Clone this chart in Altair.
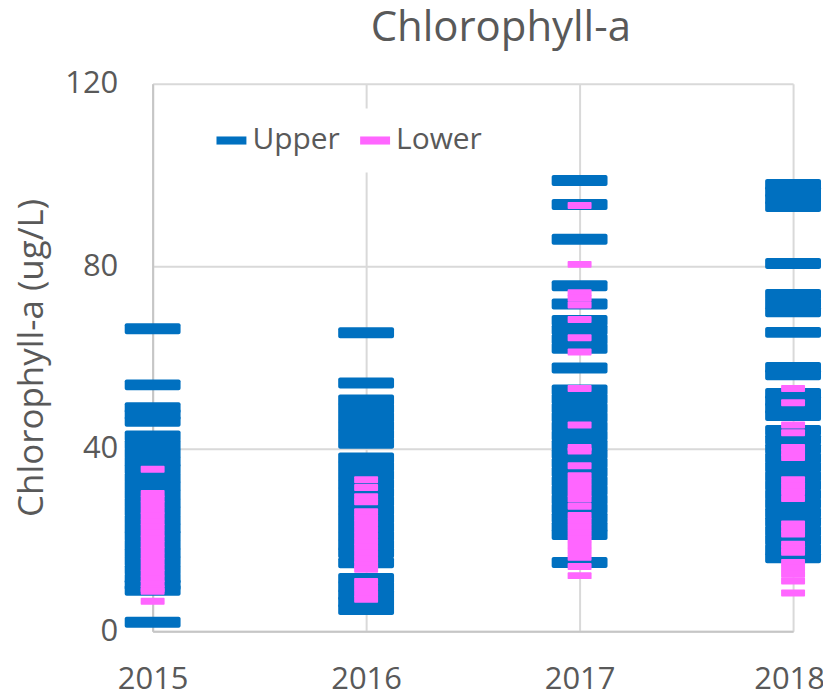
import altair as alt
import pandas as pd

years = [2015, 2016, 2017, 2018]
series_names = ["Upper", "Lower"]
colors = ["#0070C0", "#FF66FF"]

upper_2015 = [66.3, 54.0, 49.0, 47.5, 46.0, 42.8, 40.9, 39.0, 37.2, 35.5, 33.6, 31.8, 30.0,
              28.1, 26.3, 24.4, 22.6, 20.9, 19.0, 17.2, 15.4, 13.5, 11.6, 10.2, 9.0, 2.0]
lower_2015 = [35.5, 30.2, 29.0, 27.8, 26.5, 25.3, 24.0, 22.8, 21.5, 20.3, 19.0, 17.8, 16.5,
              15.3, 14.0, 12.8, 11.5, 10.4, 9.3, 8.8, 6.6]
upper_2016 = [65.4, 54.4, 50.7, 48.8, 46.9, 45.0, 43.1, 41.2, 38.0, 36.1, 34.2, 32.3, 30.4,
              28.5, 26.6, 24.7, 22.8, 20.9, 19.0, 17.2, 15.0, 11.6, 9.8, 8.0, 6.4, 4.8]
lower_2016 = [33.2, 31.5, 29.5, 28.4, 26.2, 24.9, 23.6, 22.3, 21.0, 19.7, 18.4, 17.1, 15.8,
              14.6, 13.6, 10.9, 9.6, 8.3, 7.0]
upper_2017 = [98.8, 93.5, 85.9, 75.7, 71.7, 68.1, 66.1, 64.0, 62.0, 57.7, 52.9, 50.9, 48.9,
              46.9, 44.9, 42.9, 40.9, 38.9, 36.9, 34.9, 32.9, 30.9, 28.9, 26.9, 24.9, 22.9,
              21.2, 15.1]
lower_2017 = [93.3, 80.4, 74.2, 73.0, 71.5, 68.3, 64.3, 61.2, 53.2, 45.2, 40.3, 39.5, 36.3,
              34.1, 32.8, 31.5, 30.2, 29.0, 27.4, 25.4, 24.1, 22.8, 21.5, 20.2, 18.9, 17.6,
              16.2, 14.2, 12.2]
upper_2018 = [97.9, 96.3, 94.7, 93.1, 80.6, 73.8, 71.9, 70.0, 65.5, 57.8, 56.2, 52.1, 50.5,
              48.9, 47.3, 44.0, 42.0, 40.0, 38.0, 36.0, 34.0, 32.0, 30.0, 28.0, 26.0, 24.0,
              22.0, 20.0, 18.0, 16.1]
lower_2018 = [53.2, 50.1, 45.2, 43.5, 40.3, 39.2, 38.1, 33.2, 31.9, 30.6, 29.1, 23.5, 22.4,
              21.3, 19.1, 18.1, 17.3, 15.1, 13.8, 12.5, 11.0, 8.4]

upper = {2015: upper_2015, 2016: upper_2016, 2017: upper_2017, 2018: upper_2018}
lower = {2015: lower_2015, 2016: lower_2016, 2017: lower_2017, 2018: lower_2018}

rows = []
for y in years:
    for v in upper[y]:
        rows.append({"year": y, "value": v, "series": "Upper"})
    for v in lower[y]:
        rows.append({"year": y, "value": v, "series": "Lower"})
df = pd.DataFrame(rows)

FONT = "Open Sans"
TXT = "#595959"

color = alt.Color(
    "series:N",
    scale=alt.Scale(domain=series_names, range=colors),
    legend=alt.Legend(
        orient="none", legendX=47, legendY=25, direction="horizontal", title=None,
        symbolType="M-1,-0.27L1,-0.27L1,0.27L-1,0.27Z", symbolSize=900,
        symbolStrokeWidth=0, symbolOpacity=1,
        labelFontSize=30, labelFont=FONT, labelColor=TXT,
        fillColor="white", padding=17, columnPadding=20, labelOffset=6,
    ),
)

x = alt.X(
    "year:Q",
    scale=alt.Scale(domain=[2015, 2018], nice=False, zero=False),
    axis=alt.Axis(values=years, format="d", title=None, ticks=False, labelPadding=33,
                  labelFontSize=31, labelFont=FONT, labelColor=TXT, labelFlush=False,
                  labelOverlap=False, labelBound=False, gridColor="#d9d9d9", gridWidth=2,
                  domainColor="#c6c6c6", domainWidth=2,
                  labelOffset={"condition": {"test": "datum.value == 2018", "value": -4},
                               "value": 0}),
)
y = alt.Y(
    "value:Q",
    scale=alt.Scale(domain=[0, 120], nice=False),
    axis=alt.Axis(values=[0, 40, 80, 120], title="Chlorophyll-a (ug/L)", ticks=False,
                  labelPadding=35, labelFontSize=31, labelFont=FONT, labelColor=TXT,
                  titleFontSize=35, titleFont=FONT, titleColor=TXT, titleFontWeight="normal",
                  titlePadding=15, gridColor="#d9d9d9", gridWidth=2,
                  domainColor="#c6c6c6", domainWidth=2),
)

base = alt.Chart(df)
up = base.transform_filter(alt.datum.series == "Upper").mark_tick(
    orient="horizontal", size=56, thickness=11, cornerRadius=2, opacity=1
).encode(x=x, y=y, color=color)
lo = base.transform_filter(alt.datum.series == "Lower").mark_tick(
    orient="horizontal", size=24, thickness=7, cornerRadius=1, opacity=1
).encode(x=x, y=y, color=color)

chart = alt.layer(up, lo).properties(
    width=642, height=549,
    title=alt.Title("Chlorophyll-a", fontSize=42, font=FONT, color=TXT, fontWeight="normal",
                    anchor="middle", frame="group", dx=28, offset=18),
    autosize=alt.AutoSizeParams(type="none"),
    padding={"left": 145, "top": 75, "right": 30, "bottom": 60},
).configure_view(stroke=None)

chart.save("out.html", embed_options={"renderer": "svg", "actions": False})
